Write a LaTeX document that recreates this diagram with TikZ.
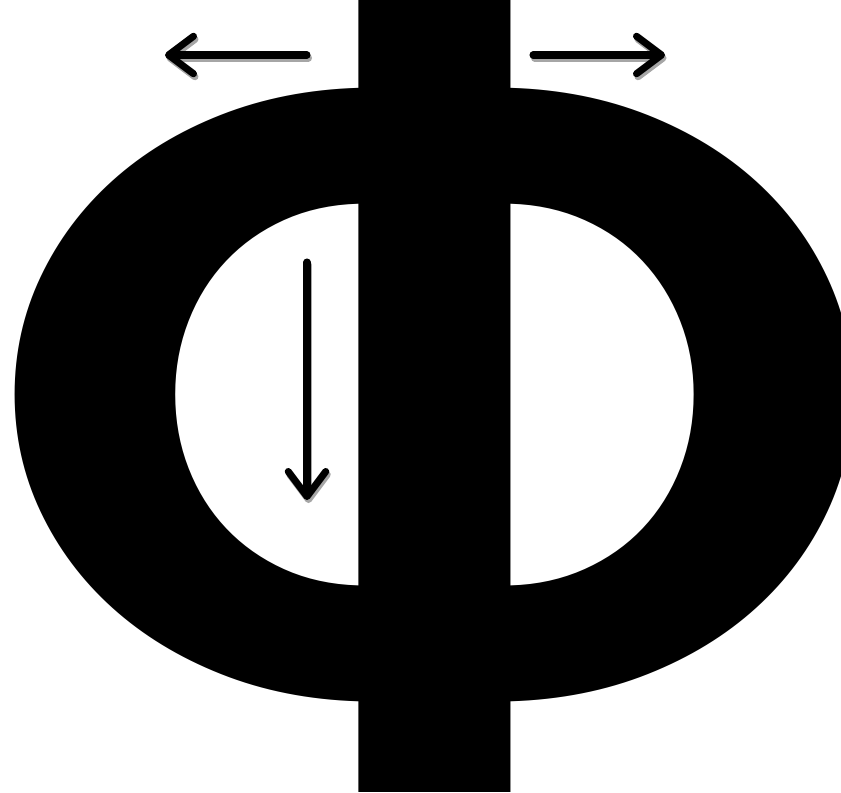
\documentclass[tikz,border=0pt]{standalone}
\usepackage{fontspec}
\setmainfont{Carlito}
\usetikzlibrary{arrows.meta}

\tikzset{
  pusharrow/.style={line width=4pt, line cap=round, -{Straight Barb[length=0.5cm,width=0.75cm,round]}},
  pushshadow/.style={pusharrow, black!35}
}

\begin{document}
\begin{tikzpicture}[x=0.02cm,y=-0.02cm]
    \useasboundingbox (0,0) rectangle (841,792);
    \clip (0,0) rectangle (841,792);

    % Letter
    \node[anchor=base, inner sep=0pt, xscale=1.064, font=\bfseries\fontsize{669}{669}\selectfont] (phi) at (433.5,792) {Ф};

    % Arrow ends
    \coordinate (leftstart) at (307,55);
    \coordinate (lefttip) at (165,55);
    \coordinate (rightstart) at (533,55);
    \coordinate (righttip) at (665,55);
    \coordinate (downstart) at (307,262);
    \coordinate (downtip) at (307,500);

    % Shadows
    \draw[pushshadow] ([shift={(1.5,3)}]leftstart) -- ([shift={(1.5,3)}]lefttip);
    \draw[pushshadow] ([shift={(1.5,3)}]rightstart) -- ([shift={(1.5,3)}]righttip);
    \draw[pushshadow] ([shift={(1.5,3)}]downstart) -- ([shift={(1.5,3)}]downtip);

    % Arrows
    \draw[pusharrow] (leftstart) -- (lefttip);
    \draw[pusharrow] (rightstart) -- (righttip);
    \draw[pusharrow] (downstart) -- (downtip);
\end{tikzpicture}
\end{document}
